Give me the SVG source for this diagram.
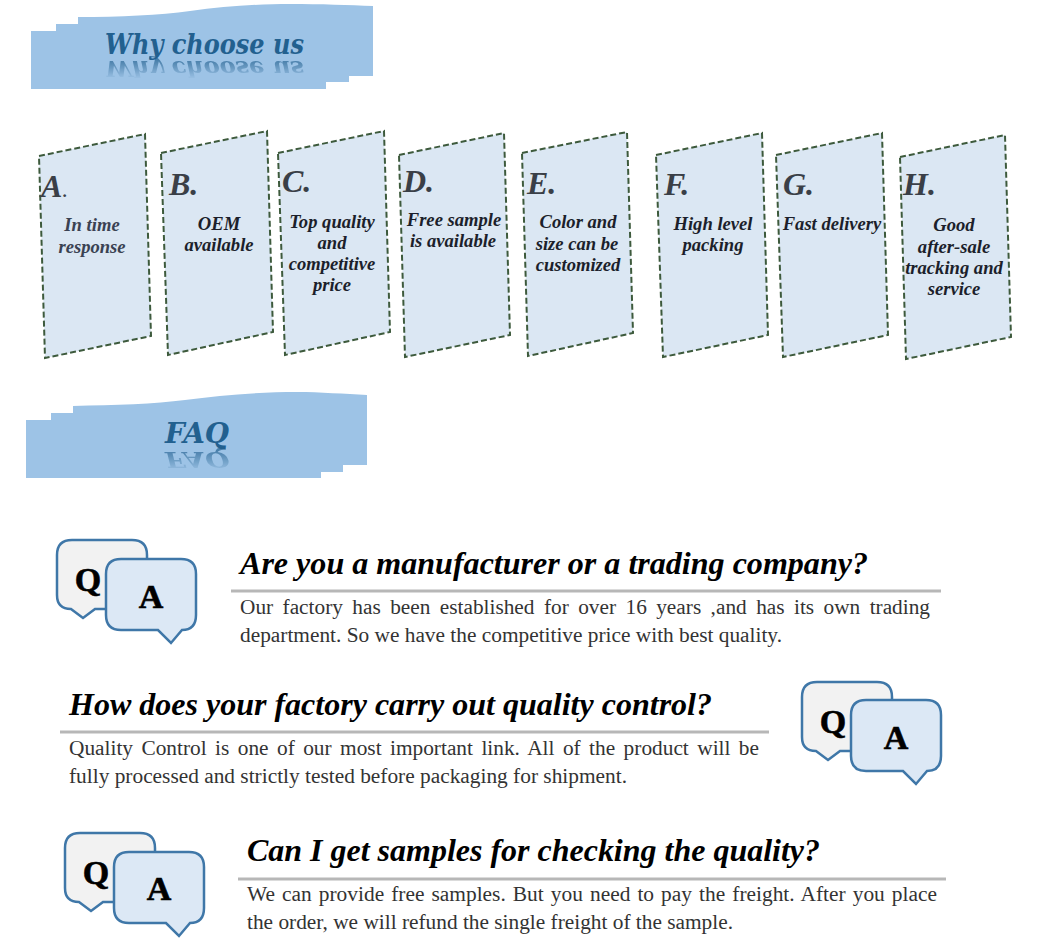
<svg xmlns="http://www.w3.org/2000/svg" width="1060" height="943" viewBox="0 0 1060 943">
<style>
text{font-family:"Liberation Serif","Times New Roman",serif}
.banner{fill:#9dc3e6}
.bt{font-family:"DejaVu Serif",serif;font-size:27px;font-weight:bold;font-style:italic;fill:#22608f}
.panel{fill:#dbe7f3;stroke:#3d5a3c;stroke-width:2;stroke-dasharray:6 3}
.let{font-size:32px;font-weight:bold;font-style:italic;fill:#3a3f47}
.lab{font-size:18.6px;font-weight:bold;font-style:italic;fill:#1c1f2b;text-anchor:middle}
.soft{fill:#3a4252}
.q{fill:#f2f2f2;stroke:#3f77a8;stroke-width:2.5}
.a{fill:#dce8f5;stroke:#3f77a8;stroke-width:2.5}
.qa{font-size:34px;font-weight:bold;fill:#000;stroke:#000;stroke-width:.6;text-anchor:middle}
.h{font-size:32px;font-weight:bold;font-style:italic;fill:#000}
.b{font-size:21.3px;fill:#333}
.rule{stroke:#b7b7b7;stroke-width:3}
</style>
<defs>
<path id="qb" d="M72 540H132Q147 540 147 555V595Q147 609 132 609H95L83 618L71 609Q57 609 57 595V555Q57 540 72 540Z"/>
<path id="ab" d="M121 559H181Q196 559 196 574V615Q196 630 182 630L171 643L158 630H121Q106 630 106 615V574Q106 559 121 559Z"/>
<linearGradient id="g1" gradientUnits="userSpaceOnUse" x1="0" y1="60" x2="0" y2="79"><stop offset="0" stop-color="#fff" stop-opacity="0.7"/><stop offset="1" stop-color="#fff" stop-opacity="0"/></linearGradient>
<linearGradient id="g2" gradientUnits="userSpaceOnUse" x1="0" y1="450" x2="0" y2="472"><stop offset="0" stop-color="#fff" stop-opacity="0.7"/><stop offset="1" stop-color="#fff" stop-opacity="0"/></linearGradient>
<mask id="m1" maskUnits="userSpaceOnUse" x="90" y="55" width="230" height="30"><rect x="90" y="55" width="230" height="30" fill="url(#g1)"/></mask>
<mask id="m2" maskUnits="userSpaceOnUse" x="150" y="445" width="100" height="30"><rect x="150" y="445" width="100" height="30" fill="url(#g2)"/></mask>
</defs>
<rect width="1060" height="943" fill="#fff"/>

<g id="banner-why">
<path class="banner" d="M31 31H56V24H78V17C120 17 160 15 190 11C225 6 260 4 290 4C320 4 350 5 373 6V76H349V82H326V89H31Z"/>
<text class="bt" x="105" y="54" textLength="199" lengthAdjust="spacingAndGlyphs">Why choose us</text>
<g mask="url(#m1)"><text class="bt" transform="matrix(1 0 0 -0.85 0 61)" x="105" y="0" textLength="199" lengthAdjust="spacingAndGlyphs">Why choose us</text></g>
</g>

<g id="panel-a"><polygon class="panel" points="39,156 145,134 151,336 45,358"/>
<text class="let" x="41" y="197">A<tspan font-weight="normal" font-size="24">.</tspan></text>
<text class="lab soft" style="fill:#3a4252" x="92" y="231">In time</text><text class="lab soft" style="fill:#3a4252" x="92" y="253">response</text></g>
<g id="panel-b"><polygon class="panel" points="161,153 267,131 273,332 168,355"/>
<text class="let" x="169" y="195">B.</text>
<text class="lab" x="219" y="230">OEM</text><text class="lab" x="219" y="251">available</text></g>
<g id="panel-c"><polygon class="panel" points="278,153 384,131 390,332 285,355"/>
<text class="let" x="282" y="192">C.</text>
<text class="lab" x="332" y="228">Top quality</text><text class="lab" x="332" y="249">and</text><text class="lab" x="332" y="270">competitive</text><text class="lab" x="332" y="291">price</text></g>
<g id="panel-d"><polygon class="panel" points="399,155 504,133 510,335 405,357"/>
<text class="let" x="403" y="192">D.</text>
<text class="lab" x="454" y="226">Free sample</text><text class="lab" x="453" y="247">is available</text></g>
<g id="panel-e"><polygon class="panel" points="522,153 627,132 633,333 528,356"/>
<text class="let" x="527" y="194">E.</text>
<text class="lab" x="578" y="228">Color and</text><text class="lab" x="577" y="250">size can be</text><text class="lab" x="578" y="271">customized</text></g>
<g id="panel-f"><polygon class="panel" points="656,155 762,133 768,335 663,357"/>
<text class="let" x="664" y="195">F.</text>
<text class="lab" x="713" y="230">High level</text><text class="lab" x="713" y="251">packing</text></g>
<g id="panel-g"><polygon class="panel" points="776,155 882,133 888,335 783,357"/>
<text class="let" x="783" y="195">G.</text>
<text class="lab" x="832" y="230">Fast delivery</text></g>
<g id="panel-h"><polygon class="panel" points="900,157 1005,135 1011,337 906,359"/>
<text class="let" x="903" y="195">H.</text>
<text class="lab" x="954" y="231">Good</text><text class="lab" x="954" y="253">after-sale</text><text class="lab" x="954" y="274">tracking and</text><text class="lab" x="954" y="295">service</text></g>

<g id="banner-faq">
<path class="banner" d="M26 420H51V413H73V406C115 405 155 404 185 400C220 395 260 392 297 392C320 392 345 394 367 395V465H343V472H321V478H26Z"/>
<text class="bt" x="165" y="443" textLength="64" lengthAdjust="spacingAndGlyphs">FAQ</text>
<g mask="url(#m2)"><text class="bt" transform="matrix(1 0 0 -0.85 0 452)" x="165" y="0" textLength="64" lengthAdjust="spacingAndGlyphs">FAQ</text></g>
</g>

<g id="icon-1">
<use href="#qb" class="q"/><use href="#ab" class="a"/>
<text class="qa" x="88" y="591">Q</text><text class="qa" x="151" y="608">A</text>
</g>
<g id="faq-1">
<text class="h" x="240" y="574" textLength="628" lengthAdjust="spacingAndGlyphs">Are you a manufacturer or a trading company?</text>
<line class="rule" x1="231" y1="591" x2="941" y2="591"/>
<text class="b" x="240" y="614" word-spacing="4.11" textLength="690" lengthAdjust="spacingAndGlyphs">Our factory has been established for over 16 years ,and has its own trading</text>
<text class="b" x="240" y="642" textLength="542" lengthAdjust="spacingAndGlyphs">department. So we have the competitive price with best quality.</text>
</g>

<g id="faq-2">
<text class="h" x="69" y="715" textLength="643" lengthAdjust="spacingAndGlyphs">How does your factory carry out quality control?</text>
<line class="rule" x1="60" y1="732" x2="769" y2="732"/>
<text class="b" x="69" y="755" word-spacing="3.1" textLength="690" lengthAdjust="spacingAndGlyphs">Quality Control is one of our most important link. All of the product will be</text>
<text class="b" x="69" y="783" textLength="558" lengthAdjust="spacingAndGlyphs">fully processed and strictly tested before packaging for shipment.</text>
</g>
<g id="icon-2">
<use href="#qb" class="q" transform="translate(745 142)"/><use href="#ab" class="a" transform="translate(745 141)"/>
<text class="qa" x="833" y="733">Q</text><text class="qa" x="896" y="749">A</text>
</g>

<g id="icon-3">
<use href="#qb" class="q" transform="translate(8 293)"/><use href="#ab" class="a" transform="translate(8 293)"/>
<text class="qa" x="96" y="884">Q</text><text class="qa" x="159" y="900">A</text>
</g>
<g id="faq-3">
<text class="h" x="247" y="861" textLength="573" lengthAdjust="spacingAndGlyphs">Can I get samples for checking the quality?</text>
<line class="rule" x1="238" y1="879" x2="946" y2="879"/>
<text class="b" x="247" y="901" word-spacing="1.71" textLength="690" lengthAdjust="spacingAndGlyphs">We can provide free samples. But you need to pay the freight. After you place</text>
<text class="b" x="247" y="929" textLength="486" lengthAdjust="spacingAndGlyphs">the order, we will refund the single freight of the sample.</text>
</g>
</svg>
